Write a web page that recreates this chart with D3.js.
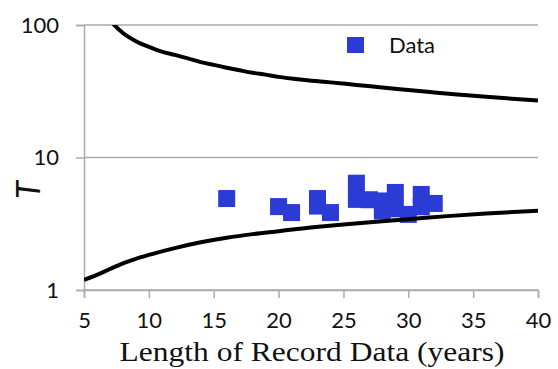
<!DOCTYPE html>
<html>
<head>
<meta charset="utf-8">
<script src="https://cdn.jsdelivr.net/npm/d3@7"></script>
<style>
  html, body { margin: 0; padding: 0; background: #fff; }
  svg { display: block; }
</style>
</head>
<body>
<svg id="chart" width="558" height="369"></svg>
<script>
// Observed return periods against record length
const recordYears   = [16, 20, 21, 23, 23, 24, 26, 26, 27, 28, 28, 29, 29, 30, 31, 31, 32];
const returnPeriods = [4.9, 4.26, 3.84, 4.9, 4.3, 3.84, 6.4, 4.83, 4.8, 4.7, 3.95, 5.45, 4.1, 3.72, 5.26, 4.25, 4.5];

// Upper bound curve
const upperYears = [6, 7, 8, 9, 10, 11, 12, 13, 14, 15, 16, 17, 18, 19, 20, 22, 24, 26, 28, 30, 32, 34, 36, 38, 40];
const upperT     = [150, 109, 87, 75.5, 68.5, 63, 59.5, 56, 52.5, 50, 47.6, 45.5, 43.6, 42.2, 40.6, 38.5, 36.9, 35.3, 33.8, 32.3, 31, 29.8, 28.7, 27.8, 26.9];

// Lower bound curve
const lowerYears = [5, 6, 7, 8, 9, 10, 12, 14, 16, 18, 20, 22, 25, 28, 30, 33, 36, 40];
const lowerT     = [1.19, 1.3, 1.44, 1.59, 1.72, 1.84, 2.07, 2.29, 2.48, 2.64, 2.78, 2.93, 3.12, 3.3, 3.42, 3.61, 3.78, 3.97];

// Axis ticks
const xTicks = [5, 10, 15, 20, 25, 30, 35, 40];
const yTicks = [1, 10, 100];

const svg = d3.select("#chart");
const plotLeft = 84, plotRight = 538, plotTop = 25, plotBottom = 290;

const x = d3.scaleLinear().domain([5, 40]).range([plotLeft, plotRight]);
const y = d3.scaleLog().domain([1, 100]).range([plotBottom, plotTop]);

const gridColor = "#ababab";
const tickFont = "Lato, 'Open Sans', sans-serif";
const tickSize = 22;

// Horizontal gridlines
svg.append("g")
  .selectAll("line")
  .data(yTicks)
  .join("line")
  .attr("x1", plotLeft).attr("x2", plotRight)
  .attr("y1", d => y(d)).attr("y2", d => y(d))
  .attr("stroke", gridColor)
  .attr("stroke-width", 1.5);

// Y axis
const yAxis = svg.append("g")
  .attr("transform", `translate(${plotLeft},0)`)
  .call(d3.axisLeft(y).tickValues(yTicks).tickFormat(d3.format("d")).tickSize(8).tickPadding(17));
yAxis.select(".domain").attr("stroke", gridColor).attr("stroke-width", 1.5);
yAxis.selectAll(".tick line").attr("stroke", gridColor).attr("stroke-width", 1.5);
yAxis.selectAll(".tick text")
  .attr("font-family", tickFont).attr("font-size", tickSize).attr("fill", "#111");

// X axis
const xAxis = svg.append("g")
  .attr("transform", `translate(0,${plotBottom})`)
  .call(d3.axisBottom(x).tickValues(xTicks).tickSize(8).tickPadding(14));
xAxis.select(".domain").attr("stroke", gridColor).attr("stroke-width", 1.5);
xAxis.selectAll(".tick line").attr("stroke", gridColor).attr("stroke-width", 1.5);
xAxis.selectAll(".tick text")
  .attr("font-family", tickFont).attr("font-size", tickSize).attr("fill", "#111");

// Plot-area clip
svg.append("clipPath").attr("id", "plot")
  .append("rect")
  .attr("x", plotLeft).attr("y", plotTop)
  .attr("width", plotRight - plotLeft).attr("height", plotBottom - plotTop);

const markColor = "#2b3bd6";
const sq = 17;

// Data squares
svg.append("g")
  .selectAll("rect")
  .data(recordYears.map((d, i) => [d, returnPeriods[i]]))
  .join("rect")
  .attr("x", d => x(d[0]) - sq / 2)
  .attr("y", d => y(d[1]) - sq / 2)
  .attr("width", sq).attr("height", sq)
  .attr("fill", markColor);

// Bound curves
const line = d3.line()
  .x(d => x(d[0]))
  .y(d => y(d[1]))
  .curve(d3.curveMonotoneX);

const curves = svg.append("g").attr("clip-path", "url(#plot)");
curves.append("path")
  .datum(upperYears.map((d, i) => [d, upperT[i]]))
  .attr("d", line)
  .attr("fill", "none").attr("stroke", "#000").attr("stroke-width", 4);
curves.append("path")
  .datum(lowerYears.map((d, i) => [d, lowerT[i]]))
  .attr("d", line)
  .attr("fill", "none").attr("stroke", "#000").attr("stroke-width", 4);

// Legend
svg.append("rect")
  .attr("x", 347).attr("y", 37).attr("width", 17).attr("height", 16)
  .attr("fill", markColor);
svg.append("text")
  .attr("x", 389).attr("y", 53)
  .attr("font-family", tickFont).attr("font-size", tickSize).attr("fill", "#111")
  .text("Data");

// Axis titles
svg.append("text")
  .attr("x", (plotLeft + plotRight) / 2 + 1).attr("y", 361)
  .attr("text-anchor", "middle")
  .attr("font-family", "'Liberation Serif', 'DejaVu Serif', serif")
  .attr("font-size", 27).attr("fill", "#111")
  .attr("textLength", 385).attr("lengthAdjust", "spacingAndGlyphs")
  .text("Length of Record Data (years)");

svg.append("text")
  .attr("transform", "translate(40,190) rotate(-90)")
  .attr("text-anchor", "middle")
  .attr("font-family", tickFont).attr("font-style", "italic")
  .attr("font-size", 33).attr("fill", "#111")
  .text("T");
</script>
</body>
</html>
